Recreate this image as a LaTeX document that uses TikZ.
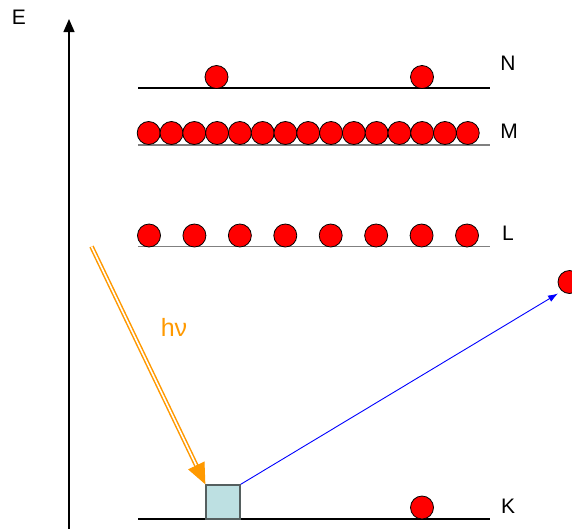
\documentclass[tikz,border=0pt]{standalone}
\usepackage{fontspec}
\setmainfont{Liberation Sans}
\usetikzlibrary{arrows.meta,calc}
\definecolor{rayorange}{RGB}{255,153,0}
\definecolor{holefill}{RGB}{189,224,226}
\definecolor{holeedge}{RGB}{85,95,95}

\begin{document}
\begin{tikzpicture}[x=1pt,y=-1pt,
  electron/.style={circle,draw=black,fill=red,line width=0.8pt,minimum size=23pt,inner sep=0pt},
  lbl/.style={inner sep=0pt,font=\fontsize{21}{25}\selectfont}]
\useasboundingbox (0,0) rectangle (572,528);
% energy axis
\coordinate (axbot) at (69,530);
\coordinate (axtop) at (69,19);
\draw[line width=1.3pt,-{Triangle[length=13pt,width=11pt]}] (axbot) -- (axtop);
\node[lbl] (E) at (19,17.5) {E};
% shells
\draw[line width=1.3pt] (138,88) -- (490,88);
\draw[line width=1.3pt,gray] (138,145) -- (490,145);
\draw[line width=1.3pt,gray] (138,246.5) -- (490,246.5);
\draw[line width=1.3pt] (138,519) -- (490,519);
\node[lbl] (N) at (508,63) {N};
\node[lbl] (M) at (509,131.5) {M};
\node[lbl] (L) at (508,233.5) {L};
\node[lbl] (K) at (508,506) {K};
% electrons
\node[electron] (n1) at (216.5,77) {};
\node[electron] (n2) at (422,77) {};
\foreach \i in {0,...,14}
  \node[electron] (m\i) at (148.7+22.79*\i,133) {};
\foreach \i in {0,...,7}
  \node[electron] (l\i) at (149+45.43*\i,235.5) {};
\node[electron] (k1) at (422,507.5) {};
% vacancy and ejected electron
\node[draw=holeedge,fill=holefill,line width=1.3pt,minimum size=34pt,inner sep=0pt] (hole) at (223,502) {};
\node[electron] (free) at (569.5,282) {};
\coordinate (hit) at (558,293.5);
\draw[blue,line width=0.9pt,-{Latex[length=10pt,width=7pt]}] (hole.north east) -- (hit);
% incoming photon
\coordinate (photon) at (91.5,246.5);
\draw[rayorange,line width=1.5pt,double=white,double distance=1.6pt]
  (photon) -- ($(hole.north west)!18pt!(photon)$);
\draw[rayorange,line width=1pt,-{Triangle[length=21pt,width=18pt]}]
  ($(hole.north west)!19pt!(photon)$) -- (hole.north west);
\node[lbl,text=rayorange,font=\fontsize{25}{29}\selectfont] (hnu) at (174,327) {hν};
\end{tikzpicture}
\end{document}
